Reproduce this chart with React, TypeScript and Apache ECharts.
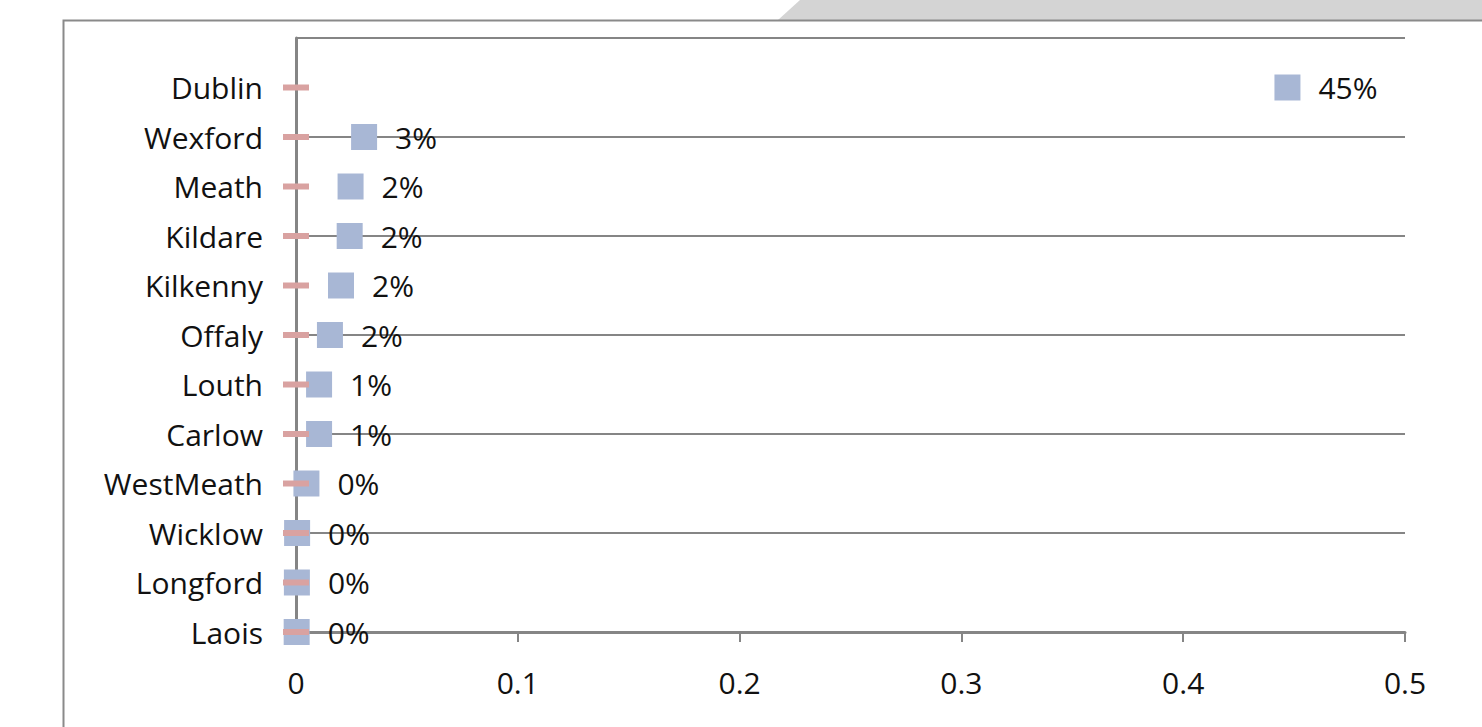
import React, { useEffect, useRef } from "react";
import * as echarts from "echarts";

// categories from bottom (y = 0) to top
const counties = ["Laois", "Longford", "Wicklow", "WestMeath", "Carlow", "Louth", "Offaly", "Kilkenny", "Kildare", "Meath", "Wexford", "Dublin"];
const shareValues = [0.0003, 0.0004, 0.0005, 0.0047, 0.0104, 0.0104, 0.0153, 0.0203, 0.0242, 0.0246, 0.0307, 0.447];
const baseValues = [0, 0, 0, 0, 0, 0, 0, 0, 0, 0, 0, 0];
const xTicks = [0, 0.1, 0.2, 0.3, 0.4, 0.5];

export default function App() {
  const ref = useRef<HTMLDivElement>(null);
  useEffect(() => {
    if (!ref.current) return;
    const chart = echarts.init(ref.current, undefined, { renderer: "svg" });
    const font = "'Open Sans', Lato, sans-serif";
    const gray = "#858585";
    const fs = 30;
    chart.setOption({
      animation: false,
      backgroundColor: "#ffffff",
      textStyle: { fontFamily: font },
      graphic: [
        {
          type: "polygon",
          shape: { points: [[778, 20], [800, 0], [1482, 0], [1482, 20]] },
          style: { fill: "#d4d4d4" },
          z: -1,
        },
        {
          type: "polyline",
          shape: { points: [[63.5, 727], [63.5, 20.5], [1482, 20.5]] },
          style: { stroke: "#8a8a8a", lineWidth: 2, fill: "none" },
        },
      ],
      grid: { left: 296, right: 77, top: 38, bottom: 95, containLabel: false },
      xAxis: {
        type: "value",
        min: 0,
        max: 0.5,
        interval: 0.1,
        axisLine: { show: true, lineStyle: { color: gray, width: 3 } },
        axisTick: { show: true, length: 10, lineStyle: { color: gray, width: 2 } },
        splitLine: { show: false },
        axisLabel: {
          margin: 35,
          fontSize: fs,
          color: "#111",
          fontFamily: font,
          formatter: (v: number) => {
            const t = xTicks.find((x) => Math.abs(x - v) < 1e-9);
            return t === undefined ? "" : String(t);
          },
        },
      },
      yAxis: [
        {
          type: "value",
          min: 0,
          max: 12,
          interval: 1,
          axisLine: { show: true, onZero: false, lineStyle: { color: gray, width: 3 } },
          axisTick: { show: false },
          splitLine: { show: false },
          axisLabel: {
            margin: 33,
            fontSize: fs,
            color: "#111",
            fontFamily: font,
            formatter: (v: number) => counties[Math.round(v)] ?? "",
          },
        },
        {
          type: "value",
          min: 0,
          max: 12,
          interval: 2,
          position: "left",
          axisLine: { show: false },
          axisTick: { show: false },
          axisLabel: { show: false },
          splitLine: { show: true, lineStyle: { color: gray, width: 2 } },
        },
      ],
      series: [
        {
          name: "Share",
          type: "scatter",
          symbol: "rect",
          symbolSize: 26,
          itemStyle: { color: "#a8b7d5", opacity: 1 },
          data: shareValues.map((v, i) => [v, i]),
          label: {
            show: true,
            position: "right",
            distance: 18,
            fontSize: fs,
            color: "#111",
            fontFamily: font,
            formatter: (p: any) => Math.round(p.value[0] * 100) + "%",
          },
          z: 3,
        },
        {
          name: "Base",
          type: "scatter",
          symbol: "rect",
          symbolSize: [26, 6],
          itemStyle: { color: "#d9a2a1", opacity: 1 },
          data: baseValues.map((v, i) => [v, i]),
          z: 4,
        },
      ],
    });
    return () => chart.dispose();
  }, []);
  return <div ref={ref} style={{ position: "fixed", left: 0, top: 0, width: 1482, height: 727 }} />;
}
